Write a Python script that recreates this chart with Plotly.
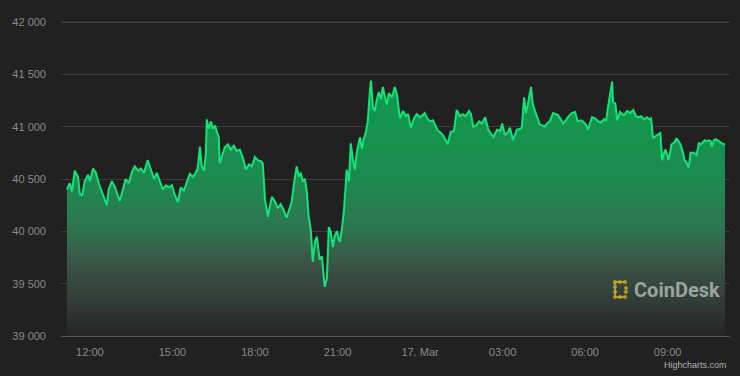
import pandas as pd
import plotly.graph_objects as go

# ---- data (BTC/USD, 16-17 Mar 2022) ----
times = [
    "03-16 11:10", "03-16 11:16", "03-16 11:21", "03-16 11:27", "03-16 11:34", "03-16 11:38", "03-16 11:43",
    "03-16 11:49", "03-16 11:56", "03-16 12:00", "03-16 12:07", "03-16 12:13", "03-16 12:20", "03-16 12:26",
    "03-16 12:33", "03-16 12:37", "03-16 12:41", "03-16 12:48", "03-16 12:55", "03-16 13:01", "03-16 13:05",
    "03-16 13:12", "03-16 13:18", "03-16 13:25", "03-16 13:32", "03-16 13:38", "03-16 13:45", "03-16 13:51",
    "03-16 13:58", "03-16 14:06", "03-16 14:13", "03-16 14:20", "03-16 14:26", "03-16 14:33", "03-16 14:39",
    "03-16 14:46", "03-16 14:52", "03-16 14:59", "03-16 15:05", "03-16 15:12", "03-16 15:18", "03-16 15:25",
    "03-16 15:32", "03-16 15:38", "03-16 15:45", "03-16 15:51", "03-16 15:55", "03-16 16:00", "03-16 16:04",
    "03-16 16:09", "03-16 16:13", "03-16 16:15", "03-16 16:19", "03-16 16:24", "03-16 16:28", "03-16 16:33",
    "03-16 16:37", "03-16 16:41", "03-16 16:43", "03-16 16:48", "03-16 16:54", "03-16 17:01", "03-16 17:07",
    "03-16 17:14", "03-16 17:20", "03-16 17:27", "03-16 17:34", "03-16 17:40", "03-16 17:47", "03-16 17:53",
    "03-16 18:00", "03-16 18:06", "03-16 18:13", "03-16 18:17", "03-16 18:22", "03-16 18:26", "03-16 18:28",
    "03-16 18:33", "03-16 18:37", "03-16 18:43", "03-16 18:50", "03-16 18:56", "03-16 19:03", "03-16 19:09",
    "03-16 19:14", "03-16 19:20", "03-16 19:25", "03-16 19:31", "03-16 19:36", "03-16 19:40", "03-16 19:44",
    "03-16 19:49", "03-16 19:53", "03-16 19:57", "03-16 20:02", "03-16 20:06", "03-16 20:11", "03-16 20:15",
    "03-16 20:19", "03-16 20:21", "03-16 20:26", "03-16 20:30", "03-16 20:32", "03-16 20:37", "03-16 20:41",
    "03-16 20:45", "03-16 20:50", "03-16 20:54", "03-16 20:59", "03-16 21:03", "03-16 21:05", "03-16 21:09",
    "03-16 21:14", "03-16 21:18", "03-16 21:20", "03-16 21:25", "03-16 21:29", "03-16 21:33", "03-16 21:38",
    "03-16 21:42", "03-16 21:49", "03-16 21:53", "03-16 21:57", "03-16 22:02", "03-16 22:06", "03-16 22:10",
    "03-16 22:13", "03-16 22:17", "03-16 22:21", "03-16 22:26", "03-16 22:30", "03-16 22:35", "03-16 22:39",
    "03-16 22:43", "03-16 22:48", "03-16 22:52", "03-16 22:59", "03-16 23:05", "03-16 23:10", "03-16 23:16",
    "03-16 23:23", "03-16 23:29", "03-16 23:34", "03-16 23:40", "03-16 23:47", "03-16 23:53", "03-17 00:00",
    "03-17 00:06", "03-17 00:10", "03-17 00:17", "03-17 00:23", "03-17 00:28", "03-17 00:34", "03-17 00:39",
    "03-17 00:43", "03-17 00:50", "03-17 00:56", "03-17 01:00", "03-17 01:07", "03-17 01:14", "03-17 01:20",
    "03-17 01:27", "03-17 01:33", "03-17 01:40", "03-17 01:47", "03-17 01:51", "03-17 01:56", "03-17 02:02",
    "03-17 02:09", "03-17 02:15", "03-17 02:22", "03-17 02:29", "03-17 02:35", "03-17 02:40", "03-17 02:48",
    "03-17 02:55", "03-17 02:59", "03-17 03:05", "03-17 03:12", "03-17 03:16", "03-17 03:23", "03-17 03:31",
    "03-17 03:38", "03-17 03:42", "03-17 03:47", "03-17 03:51", "03-17 03:55", "03-17 04:02", "03-17 04:06",
    "03-17 04:11", "03-17 04:15", "03-17 04:21", "03-17 04:28", "03-17 04:32", "03-17 04:39", "03-17 04:43",
    "03-17 04:50", "03-17 04:56", "03-17 05:01", "03-17 05:07", "03-17 05:12", "03-17 05:18", "03-17 05:22",
    "03-17 05:31", "03-17 05:38", "03-17 05:44", "03-17 05:51", "03-17 05:55", "03-17 06:02", "03-17 06:06",
    "03-17 06:11", "03-17 06:15", "03-17 06:22", "03-17 06:26", "03-17 06:33", "03-17 06:37", "03-17 06:41",
    "03-17 06:46", "03-17 06:50", "03-17 06:55", "03-17 06:59", "03-17 07:01", "03-17 07:06", "03-17 07:10",
    "03-17 07:16", "03-17 07:21", "03-17 07:25", "03-17 07:32", "03-17 07:38", "03-17 07:45", "03-17 07:51",
    "03-17 07:56", "03-17 08:02", "03-17 08:09", "03-17 08:15", "03-17 08:20", "03-17 08:24", "03-17 08:28",
    "03-17 08:33", "03-17 08:37", "03-17 08:44", "03-17 08:48", "03-17 08:53", "03-17 08:55", "03-17 09:00",
    "03-17 09:02", "03-17 09:06", "03-17 09:08", "03-17 09:15", "03-17 09:19", "03-17 09:24", "03-17 09:28",
    "03-17 09:33", "03-17 09:37", "03-17 09:41", "03-17 09:46", "03-17 09:50", "03-17 09:57", "03-17 10:03",
    "03-17 10:08", "03-17 10:12", "03-17 10:16", "03-17 10:21", "03-17 10:25", "03-17 10:30", "03-17 10:34",
    "03-17 10:36", "03-17 10:41", "03-17 10:45", "03-17 10:49", "03-17 10:54", "03-17 10:58", "03-17 11:05",
]
prices = [
    40400, 40460, 40380, 40580, 40520, 40360, 40340,
    40480, 40540, 40480, 40600, 40560, 40450, 40380,
    40300, 40250, 40400, 40480, 40420, 40330, 40290,
    40400, 40500, 40460, 40570, 40620, 40580, 40600,
    40560, 40680, 40580, 40500, 40560, 40480, 40400,
    40440, 40420, 40440, 40350, 40280, 40420, 40390,
    40470, 40550, 40520, 40560, 40600, 40810, 40620,
    40580, 40750, 41070, 40980, 41050, 40980, 41010,
    40950, 40900, 40650, 40720, 40800, 40830, 40780,
    40820, 40770, 40780, 40700, 40590, 40640, 40620,
    40710, 40680, 40670, 40650, 40300, 40200, 40140,
    40250, 40330, 40290, 40220, 40260, 40200, 40130,
    40200, 40280, 40450, 40620, 40520, 40560, 40480,
    40500, 40380, 40150, 40000, 39710, 39900, 39950,
    39800, 39730, 39760, 39600, 39470, 39550, 40040,
    40000, 39850, 39960, 40000, 39920, 39900, 40000,
    40200, 40450, 40590, 40480, 40840, 40700, 40590,
    40750, 40900, 40790, 40880, 40950, 41050, 41300,
    41440, 41190, 41150, 41260, 41330, 41260, 41380,
    41290, 41210, 41320, 41280, 41380, 41300, 41080,
    41150, 41100, 41120, 40990, 41080, 41120, 41090,
    41110, 41130, 41070, 41050, 41060, 41000, 40960,
    40950, 40920, 40870, 40830, 40950, 40960, 41160,
    41100, 41120, 41100, 41150, 41120, 41000, 41010,
    41050, 41030, 41090, 40970, 40930, 40900, 40970,
    40960, 41030, 40920, 40950, 40990, 40870, 40970,
    40980, 40990, 41280, 41130, 41210, 41380, 41210,
    41150, 41100, 41020, 41010, 41000, 41040, 41050,
    41130, 41120, 41110, 41070, 41030, 41060, 41090,
    41130, 41140, 41050, 41060, 41050, 41020, 40970,
    41050, 41090, 41080, 41060, 41040, 41050, 41070,
    41060, 41190, 41320, 41430, 41240, 41220, 41060,
    41140, 41120, 41110, 41150, 41130, 41160, 41100,
    41090, 41100, 41070, 41090, 41070, 41080, 40890,
    40910, 40920, 40940, 40680, 40760, 40780, 40720,
    40680, 40760, 40830, 40850, 40890, 40860, 40830,
    40760, 40680, 40660, 40610, 40750, 40750, 40730,
    40840, 40830, 40850, 40870, 40860, 40870, 40860,
    40810, 40870, 40880, 40870, 40850, 40840, 40830,
]
x_tick_times = ["03-16 12:00", "03-16 15:00", "03-16 18:00", "03-16 21:00",
                "03-17 00:00", "03-17 03:00", "03-17 06:00", "03-17 09:00"]
x_tick_labels = ["12:00", "15:00", "18:00", "21:00", "17. Mar", "03:00", "06:00", "09:00"]
y_tick_vals = [39000, 39500, 40000, 40500, 41000, 41500, 42000]
y_tick_labels = ["39 000", "39 500", "40 000", "40 500", "41 000", "41 500", "42 000"]

YEAR = "2022-"
x = pd.to_datetime([YEAR + t for t in times])
xt = pd.to_datetime([YEAR + t for t in x_tick_times])

BG = "#212121"
GRID = "#3c3c3c"
fig = go.Figure()
fig.add_trace(go.Scatter(
    x=x, y=prices, mode="lines",
    line=dict(color="#12e47a", width=2),
    fill="tozeroy",
    fillgradient=dict(
        type="vertical", start=39000, stop=41450,
        colorscale=[
            [0.0, "rgb(36,36,36)"],
            [0.12, "rgb(50,58,54)"],
            [0.29, "rgb(58,86,70)"],
            [0.41, "rgb(46,116,80)"],
            [0.61, "rgb(30,138,80)"],
            [0.82, "rgb(20,148,78)"],
            [1.0, "rgb(16,152,78)"],
        ],
    ),
    hoverinfo="skip",
    showlegend=False,
))

L, R, T, B = 61, 10, 20, 40
W, H = 740, 376
pw, ph = W - L - R, H - T - B
Y_MAX = 42000 + 3000 / (336 - 22) * 2  # two pixels of headroom above the top gridline


def px(xp):
    return (xp - L) / pw


def py(yp):
    return (H - B - yp) / ph


shapes = [
    # top gridline (42 000) drawn explicitly, matching the other gridlines
    dict(type="line", xref="paper", yref="y", x0=0, x1=1,
         y0=y_tick_vals[-1], y1=y_tick_vals[-1], layer="below",
         line=dict(color=GRID, width=1)),
]
# CoinDesk logo dots (decorative watermark)
logo_pts = [(615, 282), (615, 287), (615, 292), (615, 297),
            (620, 282), (625, 282), (620, 297), (625, 297),
            (626, 288), (626, 292)]
for (cx, cy) in logo_pts:
    shapes.append(dict(type="circle", xref="paper", yref="paper",
                       x0=px(cx - 2), x1=px(cx + 2), y0=py(cy + 2), y1=py(cy - 2),
                       fillcolor="rgba(200,165,40,0.85)", line=dict(width=0)))
for (x0, y0, x1, y1) in [(615, 282, 615, 297), (615, 282, 625, 282), (615, 297, 625, 297)]:
    shapes.append(dict(type="line", xref="paper", yref="paper",
                       x0=px(x0), x1=px(x1), y0=py(y0), y1=py(y1),
                       line=dict(color="rgba(200,165,40,0.85)", width=2)))

fig.update_layout(
    width=W, height=H,
    margin=dict(l=L, r=R, t=T, b=B),
    paper_bgcolor=BG, plot_bgcolor=BG,
    font=dict(family="Liberation Sans, Arial, sans-serif", size=11, color="#8a8a8a"),
    xaxis=dict(
        range=[pd.Timestamp("2022-03-16 10:57"), pd.Timestamp("2022-03-17 11:16")],
        tickvals=xt, ticktext=x_tick_labels,
        showgrid=False, zeroline=False,
        showline=True, linecolor="#555555", linewidth=1,
        ticks="", ticklabelstandoff=6,
        tickfont=dict(size=11, color="#8a8a8a"),
    ),
    yaxis=dict(
        range=[39000, Y_MAX],
        tickvals=y_tick_vals, ticktext=y_tick_labels,
        showgrid=True, gridcolor=GRID, gridwidth=1,
        zeroline=False, showline=False, ticks="",
        ticklabelstandoff=14,
        tickfont=dict(size=11, color="#8a8a8a"),
    ),
    shapes=shapes,
    annotations=[
        dict(text="<b>CoinDesk</b>", xref="paper", yref="paper",
             x=px(632), y=py(290), xanchor="left", yanchor="middle",
             showarrow=False,
             font=dict(family="Roboto, Arial, sans-serif", size=20, color="rgba(175,182,178,0.85)")),
        dict(text="Highcharts.com", xref="paper", yref="paper",
             x=px(729), y=py(365), xanchor="right", yanchor="middle",
             showarrow=False,
             font=dict(family="Liberation Sans, Arial, sans-serif", size=9, color="#b0b0b0")),
    ],
)

fig.write_html("out.html")
